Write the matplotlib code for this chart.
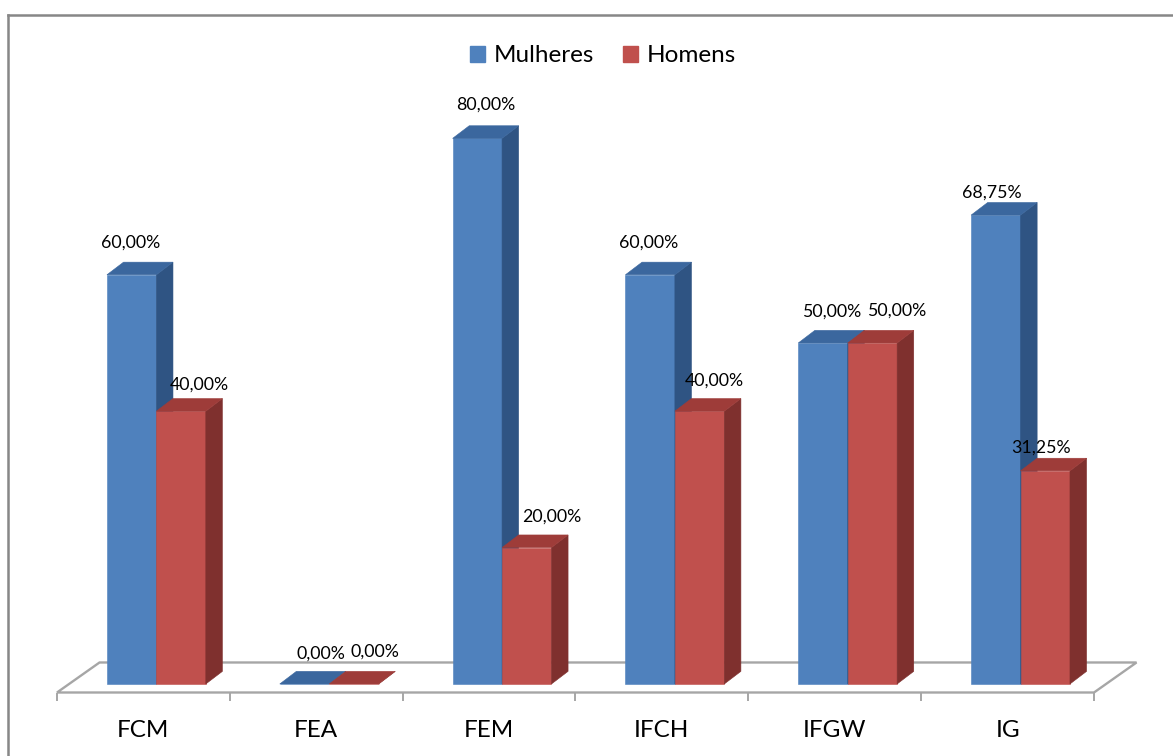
import matplotlib.pyplot as plt
from matplotlib.patches import Polygon, Patch
from matplotlib.lines import Line2D
import numpy as np

categories = ["FCM", "FEA", "FEM", "IFCH", "IFGW", "IG"]
series_names = ["Mulheres", "Homens"]
mulheres = [60.00, 0.00, 80.00, 60.00, 50.00, 68.75]
homens = [40.00, 0.00, 20.00, 40.00, 50.00, 31.25]

# value label nudges (pixels) from the front top edge of each bar
label_dx = {
    "Mulheres": [-1, 16, 8, -2, 9, -4],
    "Homens":   [18, 21, 25, 15, 24, -4],
}
label_dy = {
    "Mulheres": [32, 30, 34, 32, 31, 22],
    "Homens":   [27, 32, 31, 31, 32, 23],
}

plt.rcParams['font.family'] = ['Lato', 'DejaVu Sans']

W, H, DPI = 1173, 756, 100
PX_PER_UNIT = 6.82          # vertical pixels per percentage point
YMIN, YMAX = -1.25, 100

face = {"Mulheres": "#4F81BD", "Homens": "#C0504D"}
side = {"Mulheres": "#2F5483", "Homens": "#7F302E"}
top = {"Mulheres": "#3B679E", "Homens": "#9E3C39"}

BAR_W = 0.286
OFFS = {"Mulheres": -0.211, "Homens": 0.075}
DX, DY = 0.096, 1.85        # depth of the 3d bars
FLOOR_DX, FLOOR_BACK = 0.246, 3.15
FLOOR_COLOR = "#A6A6A6"

fig = plt.figure(figsize=(W / DPI, H / DPI), dpi=DPI)
ax_h = (YMAX - YMIN) * PX_PER_UNIT / H
ax = fig.add_axes([57 / W, (H - 692.5) / H, 1037 / W, ax_h])
ax.set_xlim(-0.5, 5.5)
ax.set_ylim(YMIN, YMAX)
for s in ax.spines.values():
    s.set_visible(False)
ax.yaxis.set_visible(False)

# floor of the 3d plot
floor = Polygon([(-0.5, YMIN), (5.5, YMIN), (5.5 + FLOOR_DX, FLOOR_BACK),
                 (-0.5 + FLOOR_DX, FLOOR_BACK)], closed=True, facecolor="white",
                edgecolor=FLOOR_COLOR, lw=1.7, zorder=1, clip_on=False,
                joinstyle="miter")
ax.add_patch(floor)


def bar3d(x0, h, name, z):
    pts_front = [(x0, 0), (x0 + BAR_W, 0), (x0 + BAR_W, h), (x0, h)]
    pts_side = [(x0 + BAR_W, 0), (x0 + BAR_W + DX, DY), (x0 + BAR_W + DX, h + DY), (x0 + BAR_W, h)]
    pts_top = [(x0, h), (x0 + BAR_W, h), (x0 + BAR_W + DX, h + DY), (x0 + DX, h + DY)]
    for pts, c in ((pts_front, face[name]), (pts_side, side[name]), (pts_top, top[name])):
        ax.add_patch(Polygon(pts, closed=True, facecolor=c, edgecolor=c, lw=0.4,
                             zorder=z, clip_on=False))


values = {"Mulheres": mulheres, "Homens": homens}
x = np.arange(len(categories))
for i in x:
    for k, name in enumerate(series_names):
        v = values[name][i]
        x0 = i + OFFS[name]
        bar3d(x0, v, name, 2 + k)
        ax.annotate(f"{v:.2f}".replace(".", ",") + "%", xy=(x0 + BAR_W / 2, v),
                    xytext=(label_dx[name][i], label_dy[name][i]),
                    textcoords="offset pixels", ha="center", va="center",
                    fontsize=12.8, color="black", zorder=5)

ax.set_xticks(x, categories)
ax.set_xticks(np.arange(-0.5, 6, 1), minor=True)
ax.tick_params(axis="x", which="major", length=0, pad=19.5, labelsize=17.5)
ax.tick_params(axis="x", which="minor", length=6, width=1.4, color=FLOOR_COLOR,
               direction="out")

handles = [Patch(facecolor=face[n], edgecolor=face[n], label=n) for n in series_names]
fig.legend(handles=handles, loc="center", bbox_to_anchor=(603 / W, 1 - 56 / H),
           ncol=2, frameon=False, fontsize=17.5, handlelength=0.62, handleheight=0.62,
           handletextpad=0.35, columnspacing=1.2)

# outer chart border (left and top visible)
fig.add_artist(Line2D([8 / W, 8 / W], [0, 1 - 14.5 / H], color="#878787", lw=1.8,
                      transform=fig.transFigure))
fig.add_artist(Line2D([8 / W, 1], [1 - 14.5 / H, 1 - 14.5 / H], color="#878787", lw=1.8,
                      transform=fig.transFigure))

fig.savefig("out.png", dpi=DPI)
